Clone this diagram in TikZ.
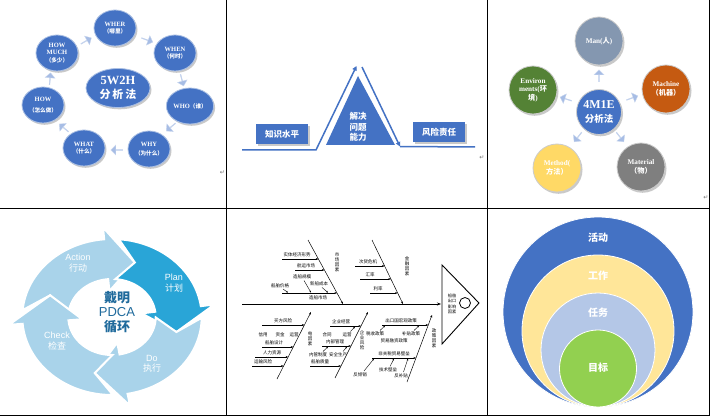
\documentclass[tikz,border=0pt]{standalone}
\usepackage{fontspec}
\setmainfont{Liberation Serif}
\setsansfont{Liberation Sans}
\newfontfamily\cjk{Noto Sans CJK SC}
\newfontfamily\dejavu{DejaVu Sans}
\usetikzlibrary{shapes.geometric,shapes.arrows,shadows,arrows.meta}
\definecolor{wblue}{HTML}{4472C4}
\definecolor{lblue}{HTML}{A7BDE5}
\definecolor{manc}{HTML}{8497B0}
\definecolor{macc}{HTML}{C55A11}
\definecolor{matc}{HTML}{7F7F7F}
\definecolor{metc}{HTML}{FFD966}
\definecolor{envc}{HTML}{548235}
\definecolor{pdcal}{HTML}{A9D3EA}
\definecolor{pdcad}{HTML}{29A5D7}
\definecolor{pdcat}{HTML}{1F6A9C}
\definecolor{ringy}{HTML}{FFE699}
\definecolor{ringb}{HTML}{B4C7E7}
\definecolor{ringg}{HTML}{92D050}
\newcommand\pdRo{78}
\newcommand\pdRi{38}
\newcommand\pdRoW{90}
\newcommand\pdRiW{26}
\newcommand\pdRm{58}
\newcommand\pdcaseg[5]{%
  \filldraw[pdseg, fill=#5] (#1:\pdRo) arc[start angle=#1, end angle=#3, radius=\pdRo]
   -- (#3:\pdRoW) -- (#4:\pdRm) -- (#3:\pdRiW) -- (#3:\pdRi)
   arc[start angle=#3, end angle=#1, radius=\pdRi] -- (#2:\pdRm) -- cycle;}
\newcommand\fbbr[4]{\coordinate (#1a) at (#2,#4); \coordinate (#1b) at (#3,#4); \draw[fba] (#1a) -- (#1b);}
\newcommand\fbsm[5]{\coordinate (#1a) at (#2,#3); \coordinate (#1b) at (#4,#5); \draw[fbs] (#1a) -- (#1b);}
\begin{document}
\begin{tikzpicture}[x=1pt,y=-1pt,
  grid/.style={line width=0.8pt, black},
  shad/.style={drop shadow={shadow xshift=1.5pt, shadow yshift=-1.8pt, opacity=0.35, fill=black!60}},
  wn/.style={ellipse, fill=wblue, draw=white!55!wblue, line width=0.8pt, shad, text=white,
    font=\bfseries\fontsize{6.5}{7.6}\selectfont, align=center, inner sep=0pt,
    minimum width=42pt, minimum height=36pt},
  sarr/.style={single arrow, fill=lblue, draw=white!40!lblue, line width=0.3pt, minimum height=12pt,
    minimum width=10pt, single arrow head extend=1.8pt, inner sep=0pt},
  bline/.style={draw=wblue, line width=1.5pt},
  bbox/.style={rectangle, fill=wblue, shad, text=white, font=\cjk\bfseries\fontsize{8.5}{10}\selectfont,
    minimum width=52pt, minimum height=20pt, inner sep=0pt},
  mc/.style={circle, draw=white!60!gray, line width=0.8pt, shad, text=white, align=center,
    font=\bfseries\fontsize{7.2}{8.6}\selectfont, minimum size=48pt, inner sep=0pt},
  pdseg/.style={draw=white, line width=2pt, line join=miter},
  pdt/.style={text=white, align=center, font=\sffamily\fontsize{9}{10.5}\selectfont, inner sep=0pt},
  fb/.style={line width=0.5pt, black},
  fba/.style={fb, -{Stealth[length=2.6pt,width=2pt]}},
  fbs/.style={line width=0.4pt, black, -{Stealth[length=2pt,width=1.6pt]}},
  fbt/.style={font=\cjk\fontsize{4.5}{5}\selectfont, inner sep=0pt, align=center},
  ring/.style={draw=white, line width=0.8pt},
  rt/.style={text=white, font=\cjk\bfseries\fontsize{10}{12}\selectfont, inner sep=0pt},
  pmark/.style={text=black!55, font=\dejavu\fontsize{6}{6}\selectfont, inner sep=0pt}]
\useasboundingbox (0,0) rectangle (710,417);
\fill[white] (0,0) rectangle (710,417);

% ---------- table lines ----------
\coordinate (g1t) at (226.5,0); \coordinate (g1b) at (226.5,416);
\coordinate (g2t) at (487,0); \coordinate (g2b) at (487,416);
\coordinate (g3t) at (709.3,0); \coordinate (g3b) at (709.3,416);
\coordinate (hml) at (0,208.5); \coordinate (hmr) at (710,208.5);
\coordinate (hbl) at (0,415.5); \coordinate (hbr) at (710,415.5);
\draw[grid] (g1t) -- (g1b); \draw[grid] (g2t) -- (g2b); \draw[grid] (g3t) -- (g3b);
\draw[grid] (hml) -- (hmr); \draw[grid] (hbl) -- (hbr);

% ---------- panel 1 : 5W2H ----------
\node[wn, minimum width=64pt, minimum height=39pt, font=\bfseries\fontsize{12.5}{14}\selectfont] (c5) at (118,88) {5W2H\\{\cjk\fontsize{11}{13}\selectfont 分\,析\,法}};
\node[wn] (wher) at (115,28) {WHER\\{\cjk\fontsize{5.6}{7}\selectfont （哪里）}};
\node[wn] (when) at (175,53) {WHEN\\{\cjk\fontsize{5.6}{7}\selectfont （何时）}};
\node[wn] (who) at (190,106) {WHO{\cjk\fontsize{5.6}{7}\selectfont （谁）}};
\node[wn] (why) at (149,149) {WHY\\[2pt]{\cjk\fontsize{5.6}{7}\selectfont （为什么）}};
\node[wn] (what) at (84,148) {WHAT\\{\cjk\fontsize{5.6}{7}\selectfont （什么）}};
\node[wn] (how) at (43,105) {HOW\\[3pt]{\cjk\fontsize{5.6}{7}\selectfont （怎么做）}};
\node[wn] (hm) at (57,53) {HOW\\MUCH\\{\cjk\fontsize{5.6}{7}\selectfont （多少）}};
\node[sarr, rotate=30] (p1) at (86,41) {};
\node[sarr, rotate=-20] (p2) at (147,40) {};
\node[sarr, rotate=-75] (p3) at (182,80) {};
\node[sarr, rotate=-140] (p4) at (171,127) {};
\node[sarr, rotate=180] (p5) at (117,150) {};
\node[sarr, rotate=140] (p6) at (64,128) {};
\node[sarr, rotate=85] (p7) at (50,79) {};
\node[pmark] (pm1) at (222.5,173) {↵};

% ---------- panel 2 : triangle ----------
\coordinate (t1) at (326,145); \coordinate (t2) at (358,76); \coordinate (t3) at (395,145);
\fill[wblue] (t1) -- (t2) -- (t3) -- cycle;
\coordinate (l0) at (242,150); \coordinate (l1) at (316,150); \coordinate (l2) at (356.5,66);
\coordinate (r0) at (362,67); \coordinate (r1) at (400,146.5); \coordinate (r2) at (475,147);
\draw[bline, -{Triangle[length=4.5pt,width=4.5pt]}] (l0) -- (l1) -- (l2);
\draw[bline, -{Triangle[length=4.5pt,width=4.5pt]}] (r0) -- (r1);
\draw[bline] (r1) -- (r2);
\node[text=white, align=center, font=\cjk\bfseries\fontsize{8.5}{10.3}\selectfont, inner sep=0pt] (jj) at (358,127) {解决\\问题\\能力};
\node[bbox] (zs) at (282,134) {知识水平};
\node[bbox] (fx) at (439,132) {风险责任};
\node[pmark] (pm2) at (482,158) {↵};

% ---------- panel 3 : 4M1E ----------
\node[mc, fill=manc] (man) at (599,41) {Man({\cjk 人})};
\node[mc, fill=macc] (mach) at (666,89) {Machine\\{\cjk （机器）}};
\node[mc, fill=matc] (mat) at (641,167) {Material\\{\cjk （物）}};
\node[mc, fill=metc] (meth) at (557,168) {Method(\\{\cjk 方法）}};
\node[mc, fill=envc] (env) at (533,90) {Environ\\ments({\cjk 环}\\{\cjk 境})};
\node[mc, fill=wblue, minimum size=45pt, font=\bfseries\fontsize{12}{13.5}\selectfont] (m0) at (599,112) {4M1E\\{\cjk\fontsize{9.5}{11}\selectfont 分析法}};
\node[sarr, rotate=90] (q1) at (599,76) {};
\node[sarr, rotate=20] (q2) at (632,98) {};
\node[sarr, rotate=-52] (q3) at (620,137) {};
\node[sarr, rotate=-128] (q4) at (578,137) {};
\node[sarr, rotate=162] (q5) at (566,99) {};
\node[pmark] (pm3) at (706,198) {↵};

% ---------- panel 4 : PDCA ----------
\begin{scope}[shift={(112,317)}, yscale=-1, xscale=1.15]
  \pdcaseg{174.9}{158}{95}{70}{pdcal}
  \pdcaseg{85.6}{70}{8}{-15}{pdcad}
  \pdcaseg{-0.6}{-15}{-80}{-105}{pdcal}
  \pdcaseg{-89.4}{-105}{-175}{-202}{pdcal}
\end{scope}
\node[pdt] (tact) at (78,263) {Action\\{\cjk 行动}};
\node[pdt] (tplan) at (174,283) {Plan\\{\cjk 计划}};
\node[pdt] (tdo) at (152,364) {Do\\{\cjk 执行}};
\node[pdt] (tchk) at (57,341) {Check\\{\cjk 检查}};
\node[text=pdcat, align=center, inner sep=0pt, font=\sffamily\fontsize{13}{14.5}\selectfont] (tc) at (117,312) {{\cjk\bfseries 戴明}\\PDCA\\{\cjk\bfseries 循环}};

% ---------- panel 5 : fishbone ----------
\coordinate (sp0) at (242,304); \coordinate (sp1) at (441,304);
\draw[fb, line width=0.9pt, -{Stealth[length=4pt,width=3pt]}] (sp0) -- (sp1);
\coordinate (h1) at (442,265); \coordinate (h2) at (479,303); \coordinate (h3) at (442,344);
\draw[fb, line width=0.9pt] (h1) -- (h2) -- (h3) -- cycle;
\node[circle, draw, line width=0.8pt, minimum size=11pt, inner sep=0pt] (hc) at (465,303) {};
\node[fbt, font=\cjk\fontsize{4.2}{5.4}\selectfont] (ht) at (452,304) {船舶\\出口\\影响\\因素};
% bones
\coordinate (Ba0) at (308,240); \coordinate (Ba1) at (343,304);
\coordinate (Bb0) at (372,240); \coordinate (Bb1) at (403,304);
\coordinate (Bc0) at (277,379); \coordinate (Bc1) at (311,312);
\coordinate (Bd0) at (335,378); \coordinate (Bd1) at (368,312);
\coordinate (Be0) at (407,382); \coordinate (Be1) at (432,315);
\draw[fba] (Ba0) -- (Ba1); \draw[fba] (Bb0) -- (Bb1);
\draw[fba] (Bc0) -- (Bc1); \draw[fba] (Bd0) -- (Bd1); \draw[fba] (Be0) -- (Be1);
\node[fbt] (lA) at (337,262) {市\\场\\因\\素};
\node[fbt] (lB) at (407,266) {金\\融\\因\\素};
\node[fbt] (lC) at (310,339) {电\\因\\素};
\node[fbt] (lD) at (362,340) {企\\业\\风\\险};
\node[fbt] (lE) at (434,338) {政\\策\\因\\素};
% branch A
\fbbr{a1}{282}{318.4}{259} \node[fbt] (ta1) at (297,255) {实体经济形势};
\fbbr{a2}{295}{324.4}{270} \node[fbt] (ta2) at (306,266) {航运市场};
\fbbr{a3}{282}{337}{293}
\node[fbt] (ta3) at (280,286) {船舶价格};
\node[fbt] (ta4) at (302,277) {造船规模};
\node[fbt] (ta5) at (319,284) {新船成本};
\node[fbt] (ta6) at (318,298) {造船市场};
\fbsm{s1}{283}{289}{288}{292.6}
\fbsm{s2}{304}{280.5}{311}{292.6}
\fbsm{s3}{322}{287.5}{328}{292.6}
% branch B
\fbbr{b1}{355}{384.6}{266} \node[fbt] (tb1) at (368,262) {次贷危机};
\fbbr{b2}{360}{390.9}{279} \node[fbt] (tb2) at (370,274.5) {汇率};
\fbbr{b3}{370}{397.7}{293} \node[fbt] (tb3) at (378,288.5) {利率};
% branch C
\fbbr{c1}{262}{304.4}{325} \node[fbt] (tc1) at (283,321) {买方风险};
\node[fbt] (tc2) at (263,335) {信用};
\node[fbt] (tc3) at (280,335) {资金};
\node[fbt] (tc4) at (294,335) {运营};
\fbbr{c2}{262}{293.3}{347} \node[fbt] (tc5) at (274,343) {船舶设计};
\fbbr{c3}{255}{288.2}{357} \node[fbt] (tc6) at (272,353) {人力资源};
\fbbr{c4}{252}{283.6}{366} \node[fbt] (tc7) at (263,362) {运输风险};
% branch D
\fbbr{d1}{330}{361}{326} \node[fbt] (td1) at (341,322) {企业经营};
\node[fbt] (td2) at (327,335) {合同};
\node[fbt] (td3) at (347,335) {运营};
\fbsm{s4}{350.5}{331.5}{355}{326.6}
\fbbr{d2}{322}{351}{346} \node[fbt] (td4) at (335,342) {内部管理};
\node[fbt] (td5) at (318,355) {内管制度};
\node[fbt] (td6) at (338,355) {安全生产};
\fbsm{s5}{323}{351.5}{328}{346.6}
\fbsm{s6}{343}{351.5}{347}{346.6}
\fbbr{d3}{310}{341}{366} \node[fbt] (td7) at (320,362) {船舶质量};
% branch E
\fbbr{e1}{382}{428.3}{325} \node[fbt] (te1) at (401,320.5) {出口国宏观政策};
\node[fbt] (te2) at (375,334) {税收政策};
\node[fbt] (te3) at (411,334) {补贴政策};
\node[fbt] (te4) at (394,341) {贸易融资政策};
\fbsm{s7}{380}{330.5}{385}{325.6}
\fbsm{s8}{414}{330.5}{419}{325.6}
\fbbr{e2}{372}{416}{358} \node[fbt] (te5) at (394,353.5) {非关税贸易壁垒};
\node[fbt] (te6) at (360,375) {反倾销};
\node[fbt] (te7) at (388,370) {技术壁垒};
\node[fbt] (te8) at (401,376) {反补贴};
\fbsm{s9}{364}{371}{374}{358.6}
\fbsm{s10}{390}{366.5}{394}{358.6}
\fbsm{s11}{403.5}{372}{408}{358.6}

% ---------- panel 6 : nested circles ----------
\filldraw[ring, fill=wblue] (598,312) circle[radius=95];
\filldraw[ring, fill=ringy] (598,331) circle[radius=76];
\filldraw[ring, fill=ringb] (598,350) circle[radius=57];
\filldraw[ring, fill=ringg] (598,368.5) circle[radius=38.5];
\node[rt] (r1) at (598,238) {活动};
\node[rt] (r2) at (598,276) {工作};
\node[rt] (r3) at (598,313) {任务};
\node[rt] (r4) at (598,368) {目标};
\end{tikzpicture}
\end{document}
